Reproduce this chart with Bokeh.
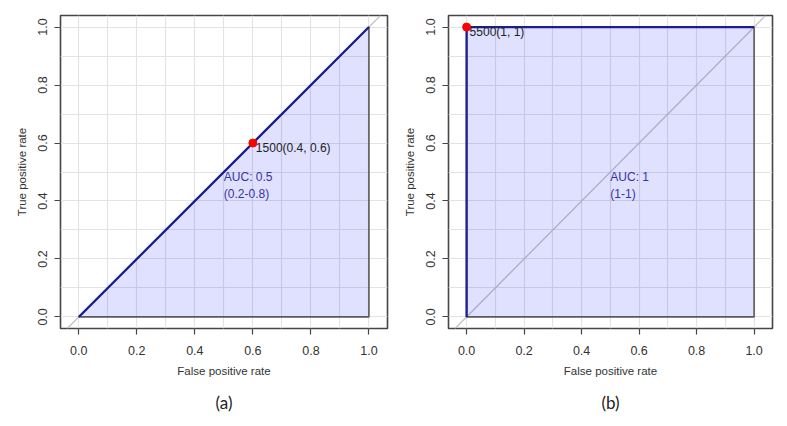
from bokeh.plotting import figure
from bokeh.layouts import row
from bokeh.models import Range1d, FixedTicker, PrintfTickFormatter, Title, ColumnDataSource, Slope
from bokeh.embed import file_html
from bokeh.resources import INLINE
from bokeh.core.properties import value

# ---------------- data ----------------
roc_a_fpr = [0.0, 1.0]
roc_a_tpr = [0.0, 1.0]
roc_b_fpr = [0.0, 0.0, 1.0]
roc_b_tpr = [0.0, 1.0, 1.0]

thr_a = [1500]
spec_a = [0.4]
sens_a = [0.6]
thr_b = [5500]
spec_b = [1]
sens_b = [1]

auc_a = ["AUC: 0.5\n(0.2-0.8)"]
auc_b = ["AUC: 1\n(1-1)"]

axis_ticks = [0.0, 0.2, 0.4, 0.6, 0.8, 1.0]
grid_ticks = [0.0, 0.1, 0.2, 0.3, 0.4, 0.5, 0.6, 0.7, 0.8, 0.9, 1.0]
captions = ["(a)", "(b)"]

FONT = "Liberation Sans"


def make_panel(fpr, tpr, thr, spec, sens, auc_txt, caption, width, bl, br):
    p = figure(width=width, height=426, output_backend="svg", toolbar_location=None,
               x_range=Range1d(-0.063, 1.064), y_range=Range1d(-0.04, 1.04),
               min_border_left=bl, min_border_right=br, min_border_top=15,
               min_border_bottom=98)
    p.outline_line_color = "#454545"
    p.outline_line_width = 1.6
    p.background_fill_color = "white"
    p.border_fill_color = "white"

    for g in (p.xgrid, p.ygrid):
        g.ticker = FixedTicker(ticks=grid_ticks)
        g.grid_line_color = "#e3e3e3"
        g.grid_line_width = 1.2

    for ax in (p.xaxis, p.yaxis):
        ax.ticker = FixedTicker(ticks=axis_ticks)
        ax.formatter = PrintfTickFormatter(format="%.1f")
        ax.axis_line_color = None
        ax.major_tick_line_color = "#454545"
        ax.major_tick_line_width = 1.2
        ax.major_tick_out = 6
        ax.major_tick_in = 0
        ax.minor_tick_line_color = None
        ax.major_label_text_font = FONT
        ax.major_label_text_font_size = "12.5px"
        ax.major_label_text_color = "#333333"
        ax.axis_label_text_font = FONT
        ax.axis_label_text_font_size = "11.5px"
        ax.axis_label_text_font_style = "normal"
        ax.axis_label_text_color = "#333333"
    p.xaxis.axis_label = "False positive rate"
    p.yaxis.axis_label = "True positive rate"
    p.xaxis.major_label_standoff = 11
    p.xaxis.axis_label_standoff = 7
    p.yaxis.major_label_orientation = "vertical"
    p.yaxis.major_label_standoff = 7
    p.yaxis.axis_label_standoff = 8

    diag = Slope(gradient=1, y_intercept=0, line_color="#c0c0c0", line_width=1.2,
                 level="underlay")
    p.add_layout(diag)

    p.patch(fpr + [1.0], tpr + [0.0], fill_color="#0000ff", fill_alpha=0.12,
            line_color="#5a5a5a", line_width=1.6)
    p.line(fpr, tpr, line_color="#1c1c96", line_width=2.2)

    pt = ColumnDataSource(dict(x=[1 - s for s in spec], y=sens,
                               t=[f"{a}({b}, {c})" for a, b, c in zip(thr, spec, sens)]))
    p.scatter("x", "y", source=pt, size=8, fill_color="#ff0000", line_color="#ff0000")
    p.text("x", "y", text="t", source=pt, x_offset=3, y_offset=-2,
           text_align="left", text_baseline="top", text_font=value(FONT),
           text_font_size="12px", text_color="#222222")

    at = ColumnDataSource(dict(x=[0.5], y=[0.5], t=auc_txt))
    p.text("x", "y", text="t", source=at, y_offset=-2, text_align="left", text_baseline="top",
           text_font=value(FONT), text_font_size="12px", text_color="#3434a6",
           text_line_height=1.2)

    cap = Title(text=caption, align="center", text_font="Lato",
                text_font_size="17px", text_font_style="normal", text_color="#222222",
                standoff=21)
    p.add_layout(cap, "below")
    return p


pa = make_panel(roc_a_fpr, roc_a_tpr, thr_a, spec_a, sens_a, auc_a, captions[0], 400, 60, 13)
pb = make_panel(roc_b_fpr, roc_b_tpr, thr_b, spec_b, sens_b, auc_b, captions[1], 387, 45, 15)

layout = row(pa, pb, spacing=0)
open("out.html", "w").write(file_html(layout, INLINE))
